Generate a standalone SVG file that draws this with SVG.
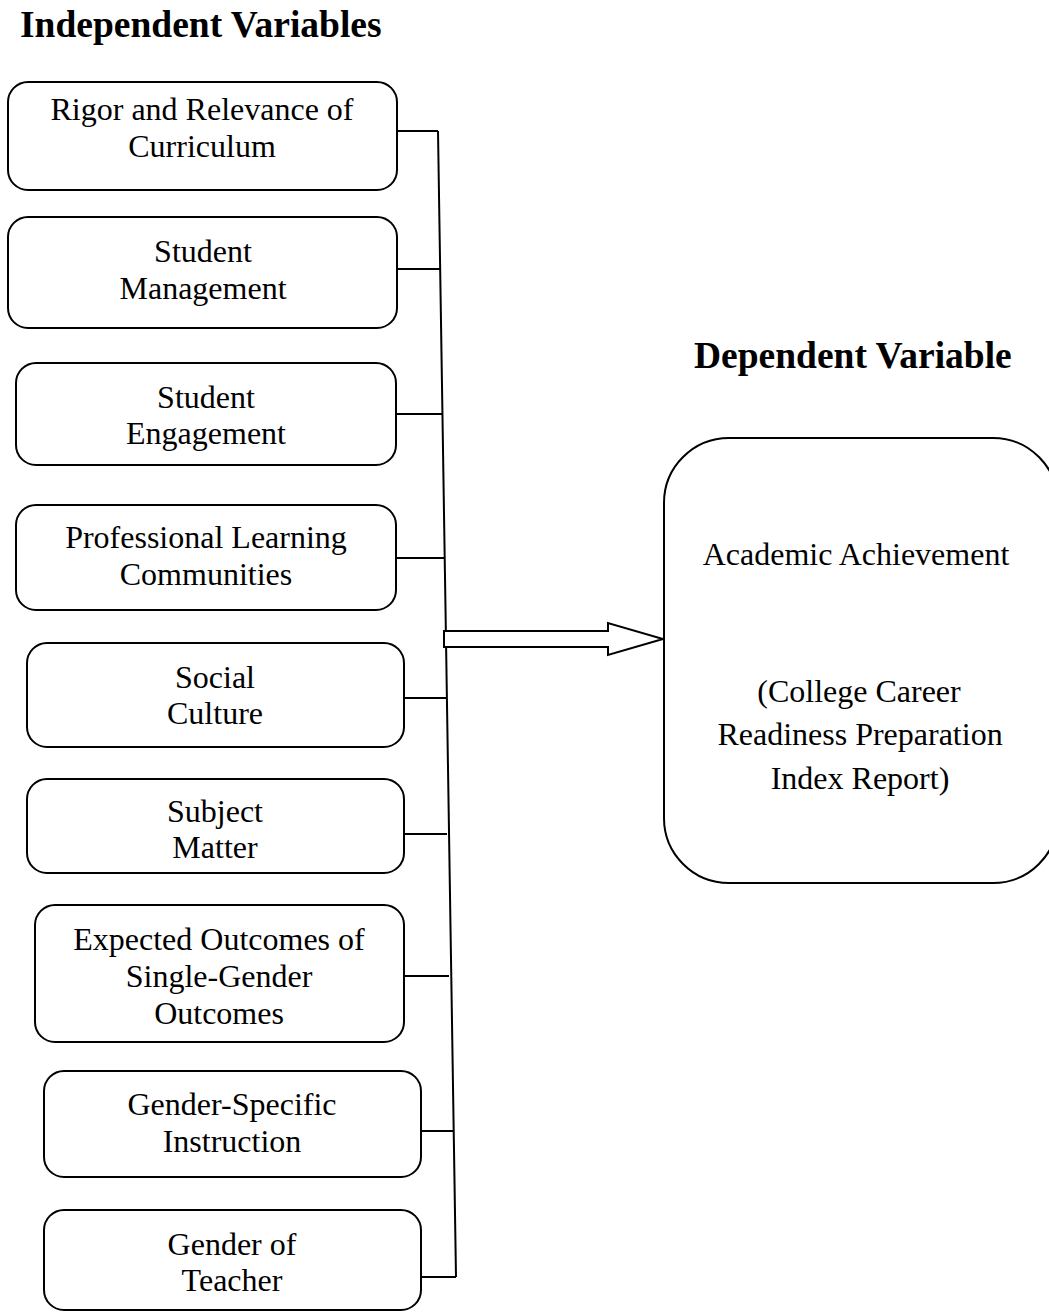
<svg xmlns="http://www.w3.org/2000/svg" width="1049" height="1314" viewBox="0 0 1049 1314">
<style>
.box{fill:#fff;stroke:#000;stroke-width:2}
.t{font-family:"Liberation Serif","Times New Roman",serif;font-size:32px;fill:#000;text-anchor:middle}
.h{font-family:"Liberation Serif","Times New Roman",serif;font-size:37.5px;font-weight:bold;fill:#000}
.c{fill:none;stroke:#000;stroke-width:2}
</style>
<rect width="1049" height="1314" fill="#fff"/>
<text class="h" x="20" y="37">Independent Variables</text>
<text class="h" x="694" y="368">Dependent Variable</text>
<g id="connectors">
<path class="c" d="M438 131 L456 1277"/>
<path class="c" d="M396 131 H438 M397 269 H440 M396 414 H442 M396 558 H444 M404 698 H446 M404 834 H447 M404 976 H449 M421 1131 H454 M421 1277 H456"/>
<path class="box" d="M444 631 H608 V623 L663 639 L608 655 V647 H444 Z"/>
</g>
<g id="n1"><rect class="box" x="8" y="82" width="389" height="108" rx="20"/><text class="t" x="202" y="120">Rigor and Relevance of</text><text class="t" x="202" y="157">Curriculum</text></g>
<g id="n2"><rect class="box" x="8" y="217" width="389" height="111" rx="20"/><text class="t" x="203" y="262">Student</text><text class="t" x="203" y="299">Management</text></g>
<g id="n3"><rect class="box" x="16" y="363" width="380" height="102" rx="20"/><text class="t" x="206" y="408">Student</text><text class="t" x="206" y="444">Engagement</text></g>
<g id="n4"><rect class="box" x="16" y="505" width="380" height="105" rx="20"/><text class="t" x="206" y="548">Professional Learning</text><text class="t" x="206" y="585">Communities</text></g>
<g id="n5"><rect class="box" x="27" y="643" width="377" height="104" rx="20"/><text class="t" x="215" y="688">Social</text><text class="t" x="215" y="724">Culture</text></g>
<g id="n6"><rect class="box" x="27" y="779" width="377" height="94" rx="20"/><text class="t" x="215" y="822">Subject</text><text class="t" x="215" y="858">Matter</text></g>
<g id="n7"><rect class="box" x="35" y="905" width="369" height="137" rx="20"/><text class="t" x="219" y="950">Expected Outcomes of</text><text class="t" x="219" y="987">Single-Gender</text><text class="t" x="219" y="1024">Outcomes</text></g>
<g id="n8"><rect class="box" x="44" y="1071" width="377" height="106" rx="20"/><text class="t" x="232" y="1115">Gender-Specific</text><text class="t" x="232" y="1152">Instruction</text></g>
<g id="n9"><rect class="box" x="44" y="1210" width="377" height="100" rx="20"/><text class="t" x="232" y="1255">Gender of</text><text class="t" x="232" y="1291">Teacher</text></g>
<g id="dv"><rect class="box" x="664" y="438" width="394" height="445" rx="65"/><text class="t" x="856" y="565">Academic Achievement</text><text class="t" x="859" y="702">(College Career</text><text class="t" x="860" y="745">Readiness Preparation</text><text class="t" x="860" y="789">Index Report)</text></g>
</svg>
